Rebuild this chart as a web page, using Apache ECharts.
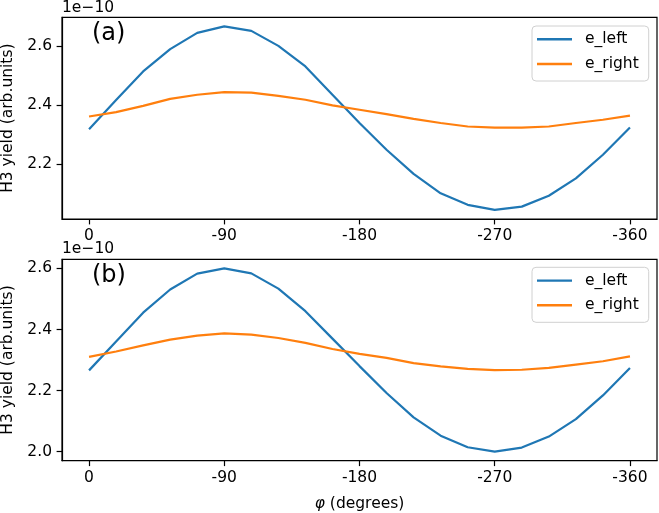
<!DOCTYPE html>
<html>
<head>
<meta charset="utf-8">
<script src="https://cdn.jsdelivr.net/npm/echarts@6/dist/echarts.min.js"></script>
<style>html,body{margin:0;padding:0;background:#fff}#c{width:659px;height:513px}</style>
</head>
<body>
<div id="c"></div>
<script>
// phi in degrees; yields in units of 1e-10 (arb.units)
const phi = [0, -18, -36, -54, -72, -90, -108, -126, -144, -162, -180, -198, -216, -234, -252, -270, -288, -306, -324, -342, -360];
const aLeft  = [2.319, 2.418, 2.515, 2.591, 2.646, 2.668, 2.653, 2.602, 2.532, 2.436, 2.340, 2.249, 2.167, 2.101, 2.062, 2.045, 2.056, 2.093, 2.152, 2.232, 2.325];
const aRight = [2.362, 2.377, 2.398, 2.422, 2.436, 2.445, 2.443, 2.432, 2.419, 2.400, 2.385, 2.370, 2.354, 2.340, 2.328, 2.324, 2.324, 2.328, 2.340, 2.351, 2.365];
const bLeft  = [2.266, 2.361, 2.455, 2.531, 2.583, 2.600, 2.584, 2.534, 2.460, 2.370, 2.280, 2.192, 2.112, 2.052, 2.014, 2.000, 2.013, 2.049, 2.106, 2.184, 2.274];
const bRight = [2.310, 2.328, 2.348, 2.367, 2.380, 2.387, 2.383, 2.372, 2.356, 2.336, 2.320, 2.307, 2.290, 2.279, 2.271, 2.267, 2.268, 2.274, 2.285, 2.296, 2.312];
const xTicks = [0, -90, -180, -270, -360];
const aYTicks = [2.2, 2.4, 2.6];
const bYTicks = [2.0, 2.2, 2.4, 2.6];
const offsetLabel = '1e\u221210';
const seriesNames = ['e_left', 'e_right'];
const colors = ['#1f77b4', '#ff7f0e'];

const FONT = 'DejaVu Sans';
const FS = 15.5;

function pairs(y) { return phi.map((p, i) => [p, y[i]]); }

function xAxis(idx, withName) {
  return {
    type: 'value', gridIndex: idx, inverse: true, min: -378, max: 18,
    splitLine: {show: false},
    axisLine: {show: true, onZero: false, lineStyle: {color: '#000', width: 1.2}},
    axisTick: {show: true, customValues: xTicks, length: 5.4, lineStyle: {color: '#000', width: 1.2}},
    axisLabel: {customValues: xTicks, margin: 9, color: '#000', fontFamily: FONT, fontSize: FS,
      formatter: v => String(v)},
    name: withName ? '{i|\u03c6} (degrees)' : '',
    nameLocation: 'middle', nameGap: 35,
    nameTextStyle: {color: '#000', fontFamily: FONT, fontSize: FS,
      rich: {i: {fontStyle: 'italic', fontFamily: FONT, fontSize: FS, color: '#000'}}}
  };
}
function yAxis(idx, min, max, ticks) {
  return {
    type: 'value', gridIndex: idx, min: min, max: max,
    splitLine: {show: false},
    axisLine: {show: true, onZero: false, lineStyle: {color: '#000', width: 1.2}},
    axisTick: {show: true, customValues: ticks, length: 5.4, lineStyle: {color: '#000', width: 1.2}},
    axisLabel: {customValues: ticks, margin: 10, color: '#000', fontFamily: FONT, fontSize: FS,
      formatter: v => v.toFixed(1)},
    name: 'H3 yield (arb.units)', nameLocation: 'middle', nameGap: 44,
    nameTextStyle: {color: '#000', fontFamily: FONT, fontSize: FS}
  };
}
function line(name, xi, data, color) {
  return {type: 'line', name: name, xAxisIndex: xi, yAxisIndex: xi, data: pairs(data),
    showSymbol: false, symbol: 'none', lineStyle: {color: color, width: 2.2}, itemStyle: {color: color},
    animation: false};
}
function legend(top) {
  return {
    data: seriesNames.map(n => ({name: n, icon: 'rect'})),
    orient: 'vertical', left: 532, top: top,
    itemWidth: 35, itemHeight: 2.4, itemGap: 4.7,
    padding: [3.3, 10, 7, 5],
    borderColor: '#d0d0d0', borderWidth: 1, borderRadius: 4, backgroundColor: 'rgba(255,255,255,0.8)',
    textStyle: {color: '#000', fontFamily: FONT, fontSize: FS, lineHeight: 20, padding: [0, 0, 0, 8]},
    selectedMode: false
  };
}

const chart = echarts.init(document.getElementById('c'), null, {renderer: 'canvas'});
chart.setOption({
  animation: false,
  color: colors,
  grid: [
    {left: 62, right: 2, top: 17.3, height: 201.7, show: true, borderColor: '#000', borderWidth: 1.2,
     backgroundColor: 'transparent', containLabel: false, outerBoundsMode: 'none'},
    {left: 62, right: 2, top: 259.3, height: 201.4, show: true, borderColor: '#000', borderWidth: 1.2,
     backgroundColor: 'transparent', containLabel: false, outerBoundsMode: 'none'}
  ],
  xAxis: [xAxis(0, false), xAxis(1, true)],
  yAxis: [yAxis(0, 2.0139, 2.699, aYTicks), yAxis(1, 1.97, 2.63, bYTicks)],
  legend: [legend(26), legend(267.3)],
  series: [
    line(seriesNames[0], 0, aLeft, colors[0]),
    line(seriesNames[1], 0, aRight, colors[1]),
    line(seriesNames[0], 1, bLeft, colors[0]),
    line(seriesNames[1], 1, bRight, colors[1])
  ],
  graphic: [
    {type: 'text', left: 62, top: 0, style: {text: offsetLabel, font: FS + 'px "DejaVu Sans"', fill: '#000'}},
    {type: 'text', left: 62, top: 240.5, style: {text: offsetLabel, font: FS + 'px "DejaVu Sans"', fill: '#000'}},
    {type: 'text', left: 92, top: 22, style: {text: '(a)', font: '24px "DejaVu Sans"', fill: '#000'}},
    {type: 'text', left: 92, top: 263.5, style: {text: '(b)', font: '24px "DejaVu Sans"', fill: '#000'}}
  ]
});
</script>
</body>
</html>
